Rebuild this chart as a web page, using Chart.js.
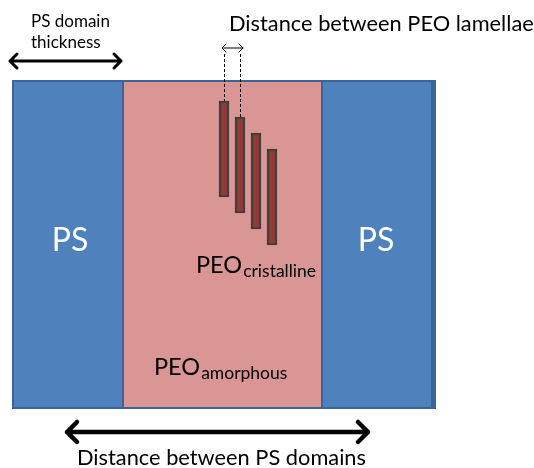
<!DOCTYPE html>
<html>
<head>
<meta charset="utf-8">
<script src="https://cdn.jsdelivr.net/npm/chart.js@4.4.0/dist/chart.umd.min.js"></script>
<style>
    html, body { margin: 0; padding: 0; background: #ffffff; }
    #wrap { width: 534px; height: 468px; position: relative; }
</style>
</head>
<body>
<div id="wrap"><canvas id="myChart"></canvas></div>
<script>
// Diagram data (in drawing units, x: 0-534, y: 0-468 top down)
const domainNames = ['PS', 'PEO', 'PS'];
const domainEdges = [13, 123, 322, 435];
const slabTop = 81;
const slabBottom = 408;

// PEO crystalline lamellae (centre x, top, bottom)
const lamellaCentres = [224, 240, 256, 272];
const lamellaTops = [101, 117, 133, 149];
const lamellaBottoms = [197, 213, 229, 245];

// Labels
const psLabelX = [70, 376];
const labelTexts = ['PS domain', 'thickness', 'Distance between PEO lamellae', 'Distance between PS domains'];

// Arrows [x1, x2, y]
const domainThicknessArrow = [10, 121, 61];
const psDistanceArrow = [67, 368, 432];
const lamellaArrow = [222, 243, 48];

const colors = {
    ps: '#4F81BD',
    psBorder: '#3A649A',
    peo: '#D99694',
    lamella: '#953735',
    lamellaBorder: '#404040'
};

const ctx = document.getElementById('myChart').getContext('2d');

function drawArrow(c, x1, x2, y, head, width) {
    c.save();
    c.strokeStyle = '#000';
    c.lineWidth = width;
    c.lineCap = 'round';
    c.lineJoin = 'round';
    c.beginPath();
    c.moveTo(x1, y);
    c.lineTo(x2, y);
    c.moveTo(x1 + head, y - head);
    c.lineTo(x1, y);
    c.lineTo(x1 + head, y + head);
    c.moveTo(x2 - head, y - head);
    c.lineTo(x2, y);
    c.lineTo(x2 - head, y + head);
    c.stroke();
    c.restore();
}

const diagramPlugin = {
    id: 'diagram',
    beforeDatasetsDraw(chart) {
        const c = chart.ctx;
        const xs = chart.scales.x;
        const ys = chart.scales.y;
        const top = ys.getPixelForValue(slabTop);
        const bottom = ys.getPixelForValue(slabBottom);

        // domains
        for (let i = 0; i < domainNames.length; i++) {
            const left = xs.getPixelForValue(domainEdges[i]);
            const right = xs.getPixelForValue(domainEdges[i + 1]);
            c.fillStyle = domainNames[i] === 'PS' ? colors.ps : colors.peo;
            c.fillRect(left, top, right - left, bottom - top);
        }
        c.save();
        c.strokeStyle = colors.psBorder;
        c.lineWidth = 2;
        for (let i = 1; i < domainEdges.length - 1; i++) {
            const x = xs.getPixelForValue(domainEdges[i]);
            c.beginPath();
            c.moveTo(x, top);
            c.lineTo(x, bottom);
            c.stroke();
        }
        const l = xs.getPixelForValue(domainEdges[0]);
        const r = xs.getPixelForValue(domainEdges[domainEdges.length - 1]);
        c.strokeRect(l, top, r - l, bottom - top);
        // darker right edge stripe
        c.fillStyle = colors.psBorder;
        c.fillRect(r - 4, top, 4, bottom - top);
        c.restore();

        // dashed guides for lamella spacing
        c.save();
        c.strokeStyle = '#000';
        c.lineWidth = 1;
        c.setLineDash([3, 2]);
        for (let i = 0; i < 2; i++) {
            const x = Math.round(xs.getPixelForValue(lamellaCentres[i])) + 0.5;
            c.beginPath();
            c.moveTo(x, ys.getPixelForValue(54));
            c.lineTo(x, ys.getPixelForValue(lamellaTops[i]));
            c.stroke();
        }
        c.restore();
    },
    afterDatasetsDraw(chart) {
        const c = chart.ctx;
        const xs = chart.scales.x;
        const ys = chart.scales.y;

        drawArrow(c, xs.getPixelForValue(domainThicknessArrow[0]), xs.getPixelForValue(domainThicknessArrow[1]),
            ys.getPixelForValue(domainThicknessArrow[2]), 7, 3);
        drawArrow(c, xs.getPixelForValue(psDistanceArrow[0]), xs.getPixelForValue(psDistanceArrow[1]),
            ys.getPixelForValue(psDistanceArrow[2]), 10, 4.5);
        drawArrow(c, xs.getPixelForValue(lamellaArrow[0]), xs.getPixelForValue(lamellaArrow[1]),
            ys.getPixelForValue(lamellaArrow[2]), 4, 1);

        c.save();
        c.textBaseline = 'alphabetic';
        c.fillStyle = '#000';
        c.font = '17px Lato';
        c.fillText(labelTexts[0], xs.getPixelForValue(31), ys.getPixelForValue(27));
        c.fillText(labelTexts[1], xs.getPixelForValue(31), ys.getPixelForValue(48));

        c.font = '21.8px Lato';
        c.fillText(labelTexts[2], xs.getPixelForValue(229), ys.getPixelForValue(31));
        c.fillText(labelTexts[3], xs.getPixelForValue(77), ys.getPixelForValue(465));

        // PS labels
        c.fillStyle = '#ffffff';
        c.font = '32px Lato';
        c.textAlign = 'center';
        psLabelX.forEach(x => c.fillText('PS', xs.getPixelForValue(x), ys.getPixelForValue(251)));

        // PEO labels with subscripts
        c.textAlign = 'left';
        c.fillStyle = '#000';
        const sub = (x, y, main, s) => {
            c.font = '23.5px Lato';
            c.fillText(main, x, y);
            const w = c.measureText(main).width;
            c.font = '17.5px Lato';
            c.fillText(s, x + w + 1, y + 4);
        };
        sub(xs.getPixelForValue(196), ys.getPixelForValue(273), 'PEO', 'cristalline');
        sub(xs.getPixelForValue(154), ys.getPixelForValue(375), 'PEO', 'amorphous');
        c.restore();
    }
};

new Chart(ctx, {
    type: 'bar',
    data: {
        datasets: [{
            label: 'PEO lamellae',
            data: lamellaCentres.map((x, i) => ({ x: x, y: [lamellaTops[i], lamellaBottoms[i]] })),
            backgroundColor: colors.lamella,
            borderColor: colors.lamellaBorder,
            borderWidth: 2.5,
            borderSkipped: false,
            barThickness: 10
        }]
    },
    options: {
        responsive: true,
        maintainAspectRatio: false,
        animation: false,
        layout: { padding: 0 },
        scales: {
            x: { type: 'linear', min: 0, max: 534, display: false, offset: false },
            y: { type: 'linear', min: 0, max: 468, reverse: true, display: false }
        },
        plugins: {
            legend: { display: false },
            tooltip: { enabled: false }
        }
    },
    plugins: [diagramPlugin]
});
</script>
</body>
</html>
